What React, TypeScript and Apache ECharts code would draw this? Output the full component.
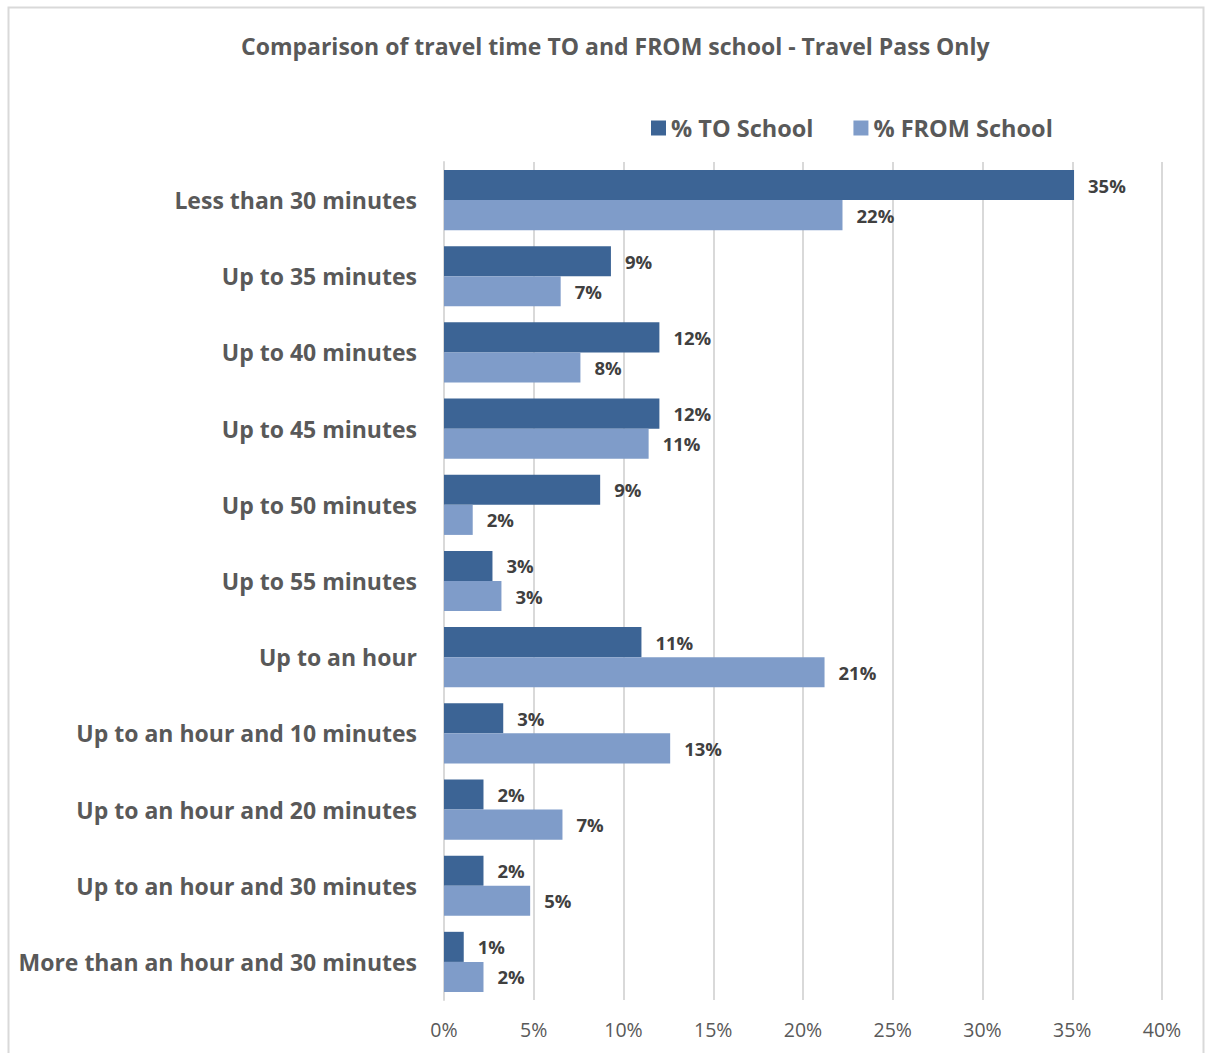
import React, { useEffect, useRef } from "react";
import * as echarts from "echarts";

const categories = [
  "Less than 30 minutes",
  "Up to 35 minutes",
  "Up to 40 minutes",
  "Up to 45 minutes",
  "Up to 50 minutes",
  "Up to 55 minutes",
  "Up to an hour",
  "Up to an hour and 10 minutes",
  "Up to an hour and 20 minutes",
  "Up to an hour and 30 minutes",
  "More than an hour and 30 minutes",
];
const toSchool = [35.1, 9.3, 12.0, 12.0, 8.7, 2.7, 11.0, 3.3, 2.2, 2.2, 1.1];
const fromSchool = [22.2, 6.5, 7.6, 11.4, 1.6, 3.2, 21.2, 12.6, 6.6, 4.8, 2.2];
const xTicks = [0, 5, 10, 15, 20, 25, 30, 35, 40];

const FONT = "'Open Sans', sans-serif";

export default function App() {
  const ref = useRef<HTMLDivElement>(null);
  useEffect(() => {
    const chart = echarts.init(ref.current!, null, { renderer: "svg" });
    const label = {
      show: true,
      position: "right",
      distance: 14,
      color: "#404040",
      fontFamily: FONT,
      fontWeight: "bold",
      fontSize: 18.5,
      formatter: (p: any) => Math.round(p.value) + "%",
    };
    chart.setOption({
      animation: false,
      backgroundColor: "#ffffff",
      title: {
        text: "Comparison of travel time TO and FROM school - Travel Pass Only",
        left: 236,
        top: 29,
        textStyle: { color: "#595959", fontFamily: FONT, fontWeight: "bold", fontSize: 23 },
      },
      legend: {
        left: 646,
        top: 111,
        icon: "rect",
        itemWidth: 15,
        itemHeight: 15,
        itemGap: 40,
        textStyle: { color: "#595959", fontFamily: FONT, fontWeight: "bold", fontSize: 23.5 },
        data: ["% TO School", "% FROM School"],
      },
      grid: { left: 444, right: 44, top: 162, bottom: 53, containLabel: false },
      xAxis: {
        type: "value",
        min: xTicks[0],
        max: xTicks[xTicks.length - 1],
        interval: 5,
        axisLine: { show: false },
        axisTick: { show: false },
        splitLine: { show: true, lineStyle: { color: "#d9d9d9", width: 2 } },
        axisLabel: {
          formatter: (v: number) => v + "%",
          color: "#595959",
          fontFamily: FONT,
          fontSize: 19.5,
          margin: 19,
        },
      },
      yAxis: {
        type: "category",
        inverse: true,
        data: categories,
        axisLine: { show: true, lineStyle: { color: "#d9d9d9", width: 2 } },
        axisTick: { show: false },
        axisLabel: {
          color: "#595959",
          fontFamily: FONT,
          fontWeight: "bold",
          fontSize: 23,
          margin: 27,
        },
      },
      series: [
        {
          name: "% TO School",
          type: "bar",
          data: toSchool,
          itemStyle: { color: "#3C6495" },
          barGap: "0%",
          barCategoryGap: "21%",
          label,
        },
        {
          name: "% FROM School",
          type: "bar",
          data: fromSchool,
          itemStyle: { color: "#7F9CC9" },
          barGap: "0%",
          barCategoryGap: "21%",
          label,
        },
      ],
      graphic: [
        {
          type: "rect",
          shape: { x: 8.5, y: 7.5, width: 1195, height: 1300 },
          style: { fill: "none", stroke: "#d9d9d9", lineWidth: 2 },
          silent: true,
        },
      ],
    });
    return () => chart.dispose();
  }, []);
  return (
    <div
      ref={ref}
      style={{ position: "absolute", left: 0, top: 0, width: 1206, height: 1053 }}
    />
  );
}
